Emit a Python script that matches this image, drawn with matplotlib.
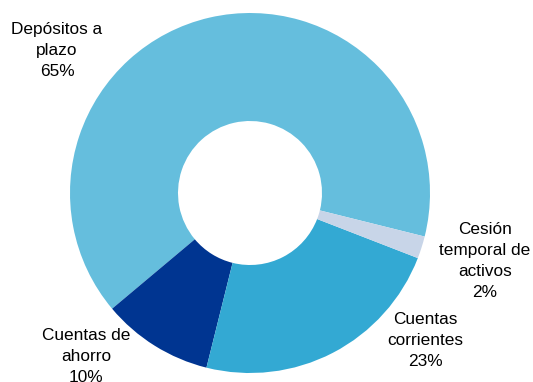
import matplotlib
matplotlib.use("Agg")
import matplotlib.pyplot as plt

labels = ["Depósitos a\nplazo", "Cuentas de\nahorro", "Cuentas\ncorrientes", "Cesión\ntemporal de\nactivos"]
shares = [65, 10, 23, 2]
colors = ["#65BEDD", "#003591", "#33A9D3", "#C8D5E8"]

# label centres in axes data units (radius = 1)
label_pos = [(-1.072, 0.789), (-0.911, -0.906), (0.972, -0.822), (1.306, -0.378)]

plt.rcParams["font.family"] = ["Liberation Sans", "DejaVu Sans"]

fig = plt.figure(figsize=(5.33, 3.82), dpi=100)
ax = fig.add_axes([0, 0, 1, 1])
ax.pie(shares, colors=colors, startangle=-14, counterclock=True,
       radius=1.0, wedgeprops=dict(width=0.6, linewidth=0))

for lab, val, (x, y) in zip(labels, shares, label_pos):
    ax.text(x, y, f"{lab}\n{val}%", ha="center", va="center",
            fontsize=12.4, linespacing=1.5, color="#000000")

ax.set_xlim(-250 / 180, 283 / 180)
ax.set_ylim(-189 / 180, 193 / 180)
ax.set_aspect("equal")
ax.axis("off")

fig.savefig("out.png", dpi=100)
